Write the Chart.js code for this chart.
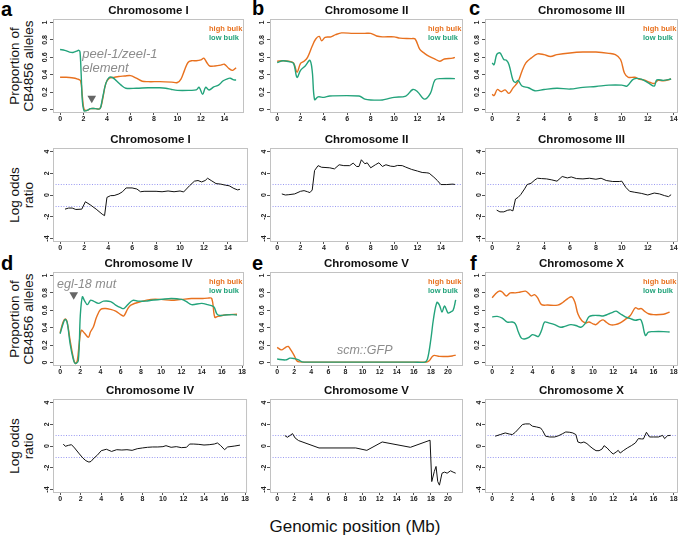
<!DOCTYPE html>
<html>
<head>
<meta charset="utf-8">
<script src="https://cdn.jsdelivr.net/npm/chart.js@4.4.0/dist/chart.umd.min.js"></script>
<style>
  body { margin:0; background:#fff; width:680px; height:537px; position:relative; overflow:hidden;
         font-family:"Liberation Sans", Arial, Helvetica, sans-serif; }
  canvas { position:absolute; }
  .tag { position:absolute; font-weight:bold; font-size:20px; line-height:20px; color:#000; }
  .ytitle { position:absolute; width:120px; height:30px; margin-left:-60px; margin-top:-15px;
            font-size:13.5px; line-height:14px; text-align:center; color:#111; transform:rotate(-90deg); }
  .xtitle { position:absolute; left:255px; top:517px; width:200px; text-align:center; font-size:17px; color:#111; }
</style>
</head>
<body>
<div class="tag" style="left:1px;top:-1px">a</div>
<div class="tag" style="left:252px;top:-2px">b</div>
<div class="tag" style="left:469px;top:-2px">c</div>
<div class="tag" style="left:1px;top:253px">d</div>
<div class="tag" style="left:252px;top:253px">e</div>
<div class="tag" style="left:470px;top:253px">f</div>
<div class="ytitle" style="left:23px;top:66px">Proportion of<br>CB4856 alleles</div>
<div class="ytitle" style="left:23px;top:195px">Log odds<br>ratio</div>
<div class="ytitle" style="left:23px;top:319px">Proportion of<br>CB4856 alleles</div>
<div class="ytitle" style="left:23px;top:446px">Log odds<br>ratio</div>
<div class="xtitle">Genomic position (Mb)</div>
<script>
// ---- data: [position (Mb), value] ----
var chrI_high = [[0,0.37],[0.5,0.37],[1.0,0.365],[1.5,0.35],[1.75,0.33],[1.9,0.15],[2.05,0.0],[2.3,-0.01],[2.6,0.01],[3.0,0.01],[3.4,0.01],[3.6,0.1],[3.9,0.3],[4.2,0.36],[4.6,0.37],[5.0,0.38],[5.5,0.385],[6.0,0.39],[6.5,0.36],[7.0,0.325],[7.5,0.32],[8.5,0.32],[9.5,0.315],[10.0,0.31],[10.3,0.35],[10.6,0.45],[10.9,0.54],[11.2,0.56],[11.6,0.56],[12.0,0.57],[12.25,0.59],[12.5,0.54],[12.75,0.5],[13.2,0.5],[13.7,0.51],[14.0,0.52],[14.4,0.47],[14.7,0.45],[15.0,0.48]];
var chrI_low = [[0,0.69],[0.4,0.68],[0.8,0.66],[1.1,0.655],[1.4,0.67],[1.6,0.68],[1.7,0.66],[1.8,0.4],[1.9,0.1],[2.05,-0.015],[2.3,-0.01],[2.6,0.01],[3.0,0.01],[3.4,0.01],[3.6,0.12],[3.9,0.3],[4.2,0.37],[4.5,0.365],[4.8,0.33],[5.2,0.28],[5.6,0.245],[6.5,0.245],[7.5,0.25],[8.5,0.25],[9.0,0.245],[9.5,0.23],[10.0,0.22],[11.0,0.22],[11.6,0.225],[11.85,0.255],[12.15,0.175],[12.4,0.255],[12.7,0.225],[13.1,0.26],[13.5,0.28],[13.9,0.33],[14.2,0.35],[14.5,0.36],[14.8,0.34],[15.0,0.34]];
var chrII_high = [[0,0.555],[0.5,0.56],[1.0,0.555],[1.4,0.535],[1.7,0.43],[2.0,0.53],[2.3,0.555],[2.6,0.6],[3.0,0.73],[3.3,0.81],[3.6,0.84],[3.8,0.79],[4.1,0.83],[4.6,0.835],[5.0,0.86],[5.5,0.88],[6.5,0.875],[7.5,0.875],[8.0,0.875],[8.5,0.845],[9.0,0.835],[10.0,0.835],[10.5,0.82],[11.5,0.815],[11.8,0.81],[12.2,0.69],[12.6,0.645],[13.0,0.61],[13.5,0.58],[13.9,0.555],[14.3,0.58],[15.0,0.59],[15.2,0.6]];
var chrII_low = [[0,0.54],[0.5,0.56],[1.0,0.55],[1.4,0.53],[1.7,0.37],[2.0,0.45],[2.4,0.5],[2.8,0.565],[3.0,0.44],[3.2,0.115],[3.5,0.145],[4.0,0.14],[4.5,0.155],[7.0,0.155],[7.5,0.12],[8.0,0.11],[9.0,0.11],[9.5,0.125],[10.0,0.14],[11.0,0.155],[11.6,0.23],[12.0,0.205],[12.6,0.12],[13.1,0.185],[13.5,0.34],[14.0,0.355],[15.2,0.355]];
var chrIII_high = [[0,0.175],[0.15,0.16],[0.4,0.23],[0.7,0.205],[1.0,0.225],[1.3,0.185],[1.6,0.245],[2.0,0.32],[2.3,0.44],[2.6,0.535],[3.0,0.59],[3.5,0.64],[4.0,0.63],[4.5,0.61],[5.0,0.63],[6.0,0.65],[7.0,0.66],[8.0,0.66],[9.0,0.645],[9.5,0.63],[9.9,0.575],[10.2,0.42],[10.5,0.37],[11.0,0.37],[11.3,0.35],[11.7,0.34],[12.2,0.31],[12.5,0.3],[12.8,0.335],[13.2,0.33],[13.8,0.35]];
var chrIII_low = [[0,0.535],[0.15,0.515],[0.35,0.63],[0.6,0.65],[0.9,0.575],[1.1,0.565],[1.3,0.515],[1.6,0.34],[1.8,0.31],[2.0,0.335],[2.3,0.27],[2.8,0.25],[3.3,0.215],[4.0,0.23],[5.0,0.245],[6.0,0.235],[7.0,0.255],[8.0,0.265],[9.0,0.28],[10.0,0.28],[10.4,0.27],[10.9,0.35],[11.5,0.35],[12.1,0.3],[12.5,0.27],[12.7,0.34],[13.2,0.335],[13.8,0.35]];
var chrIV_high = [[0,0.34],[0.3,0.465],[0.5,0.5],[0.7,0.465],[1.0,0.25],[1.3,0.06],[1.5,-0.01],[1.7,0.02],[1.9,0.23],[2.1,0.37],[2.4,0.34],[2.8,0.29],[3.0,0.35],[3.3,0.41],[3.6,0.52],[4.0,0.61],[4.5,0.62],[5.0,0.61],[5.5,0.59],[6.0,0.55],[6.3,0.535],[6.7,0.62],[7.0,0.66],[8.0,0.7],[9.0,0.725],[10.0,0.725],[11.0,0.715],[12.0,0.725],[13.0,0.735],[14.0,0.735],[14.6,0.74],[15.0,0.735],[15.3,0.52],[15.6,0.53],[16.0,0.54],[16.5,0.55],[17.5,0.555]];
var chrIV_low = [[0,0.33],[0.3,0.445],[0.5,0.495],[0.7,0.46],[1.0,0.21],[1.3,0.04],[1.5,-0.01],[1.8,0.02],[2.0,0.54],[2.2,0.755],[2.4,0.715],[2.7,0.665],[3.0,0.715],[3.3,0.705],[3.8,0.68],[4.3,0.705],[5.0,0.7],[5.5,0.66],[6.0,0.63],[6.3,0.62],[6.7,0.665],[7.2,0.715],[7.7,0.705],[8.5,0.705],[9.0,0.715],[10.0,0.725],[11.0,0.735],[12.0,0.725],[12.5,0.7],[13.0,0.665],[14.0,0.68],[14.6,0.665],[15.2,0.64],[15.5,0.56],[15.8,0.54],[16.2,0.545],[17.0,0.55],[17.5,0.545]];
var chrV_high = [[0,0.175],[0.5,0.145],[1.0,0.175],[1.3,0.185],[1.6,0.145],[2.0,0.08],[2.3,0.02],[2.6,0.008],[4,0.005],[8,0.005],[12,0.005],[16,0.005],[17.5,0.005],[17.8,0.02],[18.3,0.08],[19.0,0.07],[20.0,0.07],[20.5,0.075],[20.9,0.085]];
var chrV_low = [[0,0.04],[1.0,0.03],[1.5,0.05],[2.0,0.045],[2.5,0.03],[2.9,0.008],[4,0.005],[8,0.005],[12,0.005],[16,0.005],[17.3,0.005],[17.6,0.04],[18.0,0.27],[18.3,0.5],[18.7,0.69],[19.0,0.66],[19.3,0.58],[19.6,0.65],[20.0,0.57],[20.3,0.58],[20.6,0.6],[20.9,0.72]];
var chrX_high = [[0,0.745],[0.3,0.785],[0.7,0.82],[1.0,0.81],[1.4,0.765],[1.8,0.8],[2.3,0.8],[2.8,0.81],[3.3,0.82],[3.6,0.795],[3.9,0.765],[4.2,0.78],[4.5,0.745],[4.9,0.665],[5.5,0.66],[6.5,0.66],[7.0,0.69],[7.5,0.735],[7.9,0.755],[8.2,0.695],[8.5,0.56],[8.9,0.48],[9.3,0.455],[9.6,0.465],[10.0,0.445],[10.3,0.435],[10.7,0.475],[11.0,0.49],[11.3,0.465],[11.7,0.435],[12.2,0.435],[12.7,0.455],[13.2,0.495],[13.7,0.54],[14.2,0.63],[14.5,0.615],[14.8,0.62],[15.1,0.59],[15.5,0.56],[16.0,0.55],[17.0,0.555],[17.6,0.58]];
var chrX_low = [[0,0.525],[0.5,0.53],[1.0,0.51],[1.5,0.465],[2.0,0.465],[2.3,0.445],[2.6,0.35],[2.9,0.28],[3.2,0.27],[3.6,0.285],[4.0,0.32],[4.3,0.31],[4.6,0.3],[4.9,0.37],[5.2,0.465],[5.6,0.455],[6.2,0.435],[6.8,0.405],[7.2,0.415],[7.8,0.435],[8.3,0.425],[8.8,0.405],[9.2,0.445],[9.6,0.525],[10.0,0.54],[10.6,0.54],[11.0,0.535],[11.5,0.555],[12.0,0.58],[12.3,0.59],[12.7,0.56],[13.2,0.525],[13.7,0.505],[14.2,0.485],[14.7,0.495],[14.9,0.445],[15.2,0.31],[15.5,0.35],[16.0,0.355],[17.0,0.355],[17.6,0.35]];

var chrI_lod = [[0.4,-1.3],[0.7,-1.2],[1.0,-1.2],[1.3,-1.33],[1.8,-1.3],[2.1,-0.62],[2.5,-0.9],[3.0,-1.3],[3.5,-1.76],[3.7,-1.9],[3.9,-0.22],[4.2,-0.06],[4.5,-0.05],[4.9,0.1],[5.2,0.3],[5.5,0.65],[6.0,0.65],[6.4,0.55],[6.7,0.3],[7.0,0.34],[8.0,0.34],[8.5,0.3],[9.0,0.37],[9.5,0.3],[10.0,0.37],[10.3,0.28],[10.8,0.86],[11.2,1.27],[11.5,1.33],[11.8,1.2],[12.1,1.33],[12.3,1.54],[12.6,1.33],[13.0,1.05],[13.4,1.0],[13.8,0.9],[14.1,0.85],[14.5,0.6],[14.8,0.47],[15.0,0.52]];
var chrII_lod = [[0.4,0.1],[0.7,0.0],[1.0,0.03],[1.5,0.1],[2.0,0.34],[2.3,0.4],[2.6,0.3],[2.8,0.22],[3.0,0.46],[3.2,2.25],[3.5,2.7],[3.8,2.55],[4.5,2.5],[4.9,2.4],[5.3,2.78],[5.7,2.7],[6.2,2.7],[6.5,2.93],[6.8,2.62],[7.0,2.62],[7.2,3.24],[7.5,2.87],[7.7,2.96],[8.0,2.5],[8.4,2.78],[8.7,2.96],[9.0,2.62],[9.3,2.78],[9.7,2.65],[10.0,2.62],[10.3,2.72],[10.7,2.7],[11.0,2.56],[11.5,2.35],[12.0,2.2],[12.4,2.07],[12.8,2.04],[13.0,2.0],[13.4,1.64],[13.7,1.33],[14.0,0.96],[14.5,0.96],[15.0,1.0],[15.2,0.97]];
var chrIII_lod = [[0.35,-1.39],[0.6,-1.55],[0.9,-1.55],[1.2,-1.4],[1.4,-1.36],[1.6,-1.46],[1.8,-0.37],[2.0,-0.22],[2.2,0.03],[2.5,0.56],[2.7,0.96],[3.0,1.08],[3.3,1.39],[3.5,1.54],[3.8,1.51],[4.2,1.48],[4.6,1.39],[5.0,1.27],[5.4,1.7],[5.8,1.57],[6.1,1.66],[6.5,1.51],[7.0,1.48],[7.5,1.54],[8.0,1.45],[8.4,1.54],[8.8,1.33],[9.3,1.24],[9.8,1.24],[10.0,1.27],[10.3,0.71],[10.6,0.34],[11.0,0.25],[11.5,0.15],[12.0,0.0],[12.5,0.18],[12.9,0.1],[13.3,-0.06],[13.6,-0.15],[13.8,0.03]];
var chrIV_lod = [[0.3,0.18],[0.5,-0.03],[0.8,0.06],[1.1,0.12],[1.4,-0.18],[1.8,-0.65],[2.2,-1.1],[2.5,-1.35],[2.8,-1.48],[3.0,-1.42],[3.3,-1.1],[3.6,-0.86],[4.0,-0.43],[4.5,-0.3],[5.0,-0.5],[5.5,-0.34],[6.0,-0.37],[6.5,-0.34],[7.0,-0.4],[7.5,-0.25],[8.0,-0.18],[8.5,-0.12],[9.0,-0.09],[9.5,-0.09],[10.0,-0.06],[10.3,0.03],[10.8,-0.12],[11.3,-0.06],[11.8,-0.15],[12.3,-0.12],[12.6,0.18],[13.0,0.18],[13.5,0.15],[14.0,0.09],[14.5,0.12],[15.0,0.18],[15.3,0.28],[15.6,0.06],[16.0,-0.34],[16.3,-0.09],[17.0,0.0],[17.5,0.08]];
var chrV_lod = [[0.9,0.96],[1.2,0.8],[1.5,0.96],[1.8,1.14],[2.1,0.74],[2.5,0.5],[4.9,-0.18],[9.2,-0.18],[10.5,-0.4],[12.3,0.37],[15.6,-0.12],[17.9,0.53],[18.1,-3.27],[18.4,-2.34],[18.6,-1.88],[18.8,-3.27],[19.0,-3.6],[19.3,-2.5],[19.6,-2.4],[19.9,-2.5],[20.3,-2.28],[20.6,-2.4],[20.9,-2.5]];
var chrX_lod = [[0.3,0.9],[0.8,1.05],[1.3,1.2],[1.7,1.1],[2.0,1.05],[2.3,1.26],[2.7,1.66],[3.0,1.97],[3.3,2.03],[3.7,2.03],[4.0,1.82],[4.4,1.75],[4.8,1.66],[5.0,1.42],[5.3,0.9],[5.7,0.83],[6.2,0.83],[6.6,0.95],[7.0,1.14],[7.3,1.29],[7.7,1.26],[8.0,1.2],[8.3,1.05],[8.5,0.37],[8.8,0.28],[9.1,0.37],[9.4,0.22],[9.7,-0.03],[10.0,-0.25],[10.3,-0.43],[10.6,-0.43],[10.9,-0.28],[11.1,0.03],[11.4,-0.18],[11.7,-0.49],[12.0,-0.74],[12.3,-0.55],[12.5,-0.4],[12.7,-0.65],[13.0,-0.43],[13.4,-0.18],[13.8,0.03],[14.2,0.28],[14.5,0.68],[14.8,0.65],[15.0,0.65],[15.3,1.26],[15.6,0.83],[16.0,0.83],[16.5,0.83],[16.9,0.98],[17.1,0.68],[17.4,0.95],[17.7,0.98]];

var chromNames = ['Chromosome I','Chromosome II','Chromosome III','Chromosome IV','Chromosome V','Chromosome X'];
var chromLen = [15.07, 15.28, 13.78, 17.49, 20.92, 17.72];
var xTicksShort = [0,2,4,6,8,10,12,14];
var xTicksMid = [0,2,4,6,8,10,12,14,16,18];
var xTicksLong = [0,2,4,6,8,10,12,14,16,18,20];
var propTicks = [0,0.2,0.4,0.6,0.8,1];
var lodTicks = [-4,-2,0,2,4];
var lodCutoffs = [1,-1];
var seriesNames = ['high bulk','low bulk'];

var peelMark = [{x:2.7, y:0.13}];
var eglMark = [{x:1.35, y:0.78}];

var ORANGE = '#E8711F', GREEN = '#23A37B';
var COLS = [[53,248],[270,463],[485,678]];
var ROWS = [[19,113],[148,242],[272,366],[399,493]];
var PADL = 30, PADT = 20, PADR = 1, PADB = 14;

var panelDecor = {
  id: 'panelDecor',
  beforeDatasetsDraw: function(chart, args, o) {
    if (!o.cutoffs) return;
    var ctx = chart.ctx, a = chart.chartArea, y = chart.scales.y;
    ctx.save();
    ctx.strokeStyle = 'rgba(110,110,235,0.7)';
    ctx.lineWidth = 1;
    ctx.setLineDash([1, 1.6]);
    o.cutoffs.forEach(function(v) {
      var py = Math.round(y.getPixelForValue(v)) + 0.5;
      ctx.beginPath(); ctx.moveTo(a.left, py); ctx.lineTo(a.right, py); ctx.stroke();
    });
    ctx.restore();
  },
  afterDraw: function(chart, args, o) {
    var ctx = chart.ctx, a = chart.chartArea, sx = chart.scales.x, sy = chart.scales.y;
    ctx.save();
    ctx.strokeStyle = '#C2C2C2'; ctx.lineWidth = 1;
    ctx.strokeRect(a.left + 0.5, a.top + 0.5, a.width - 1, a.height - 1);
    ctx.fillStyle = '#111';
    ctx.font = 'bold 11.5px "Liberation Sans", Arial, sans-serif';
    ctx.textAlign = 'center'; ctx.textBaseline = 'middle';
    ctx.fillText(o.title, (a.left + a.right) / 2, a.top - 8);
    if (o.legend) {
      ctx.font = 'bold 7.5px "Liberation Sans", Arial, sans-serif';
      ctx.textAlign = 'left';
      ctx.fillStyle = ORANGE; ctx.fillText(seriesNames[0], a.right - 35, a.top + 10);
      ctx.fillStyle = GREEN; ctx.fillText(seriesNames[1], a.right - 35, a.top + 19);
    }
    (o.notes || []).forEach(function(n) {
      ctx.font = 'italic ' + (n.size || 12) + 'px "Liberation Sans", Arial, sans-serif';
      ctx.fillStyle = '#8C8C8C';
      ctx.textAlign = 'left';
      ctx.fillText(n.text, sx.getPixelForValue(n.x), sy.getPixelForValue(n.y));
    });
    ctx.restore();
  }
};

function toPts(arr) { return arr.map(function(p) { return {x:p[0], y:p[1]}; }); }

function makePanel(col, row, chrom, datasets, yTicks, yMin, yMax, xTicks, decor) {
  var box = [COLS[col][0], ROWS[row][0], COLS[col][1], ROWS[row][1]];
  var cv = document.createElement('canvas');
  cv.width = box[2] - box[0] + PADL + PADR;
  cv.height = box[3] - box[1] + PADT + PADB;
  cv.style.left = (box[0] - PADL) + 'px';
  cv.style.top = (box[1] - PADT) + 'px';
  document.body.appendChild(cv);
  var L = chromLen[chrom];
  decor.title = chromNames[chrom];
  var tickFont = { family:'"Liberation Sans", Arial, sans-serif', size:7, weight:'bold' };
  new Chart(cv, {
    type: 'line',
    data: { datasets: datasets },
    options: {
      responsive: false,
      animation: false,
      events: [],
      layout: { padding: { left:0, top:PADT, right:PADR, bottom:0 } },
      plugins: { legend: { display:false }, tooltip: { enabled:false }, panelDecor: decor },
      scales: {
        x: {
          type: 'linear', min: -0.04 * L, max: 1.04 * L,
          afterFit: function(s) { s.height = PADB; },
          afterBuildTicks: function(s) { s.ticks = xTicks.map(function(v) { return {value:v}; }); },
          ticks: { autoSkip:false, maxRotation:0, padding:0, color:'#222', font:tickFont,
                   callback: function(v) { return String(v); } },
          grid: { drawOnChartArea:false, tickLength:2, color:'#555' },
          border: { display:false }
        },
        y: {
          type: 'linear', min: yMin, max: yMax,
          afterFit: function(s) { s.width = PADL; },
          afterBuildTicks: function(s) { s.ticks = yTicks.map(function(v) { return {value:v}; }); },
          ticks: { autoSkip:false, minRotation:90, maxRotation:90, crossAlign:'center', padding:0,
                   color:'#222', font:tickFont, callback: function(v) { return String(v); } },
          grid: { drawOnChartArea:false, tickLength:3, color:'#555' },
          border: { display:false }
        }
      }
    },
    plugins: [panelDecor]
  });
}

function propSets(high, low, mark) {
  var sets = [
    { data: toPts(low), borderColor: GREEN, borderWidth: 1.4, pointRadius: 0, tension: 0.35, fill: false },
    { data: toPts(high), borderColor: ORANGE, borderWidth: 1.4, pointRadius: 0, tension: 0.35, fill: false }
  ];
  if (mark) sets.unshift({ data: mark, showLine: false, pointStyle: 'triangle', rotation: 180,
                           pointRadius: 5, backgroundColor: '#666', borderWidth: 0 });
  return sets;
}
function lodSets(lod) {
  return [{ data: toPts(lod), borderColor: '#111', borderWidth: 1, pointRadius: 0, tension: 0, fill: false }];
}

var pMin = -0.04, pMax = 1.04, lMin = -4.32, lMax = 4.32;

makePanel(0, 0, 0, propSets(chrI_high, chrI_low, peelMark), propTicks, pMin, pMax, xTicksShort,
  { legend:true, notes:[{text:'peel-1/zeel-1', x:1.9, y:0.63, size:13}, {text:'element', x:1.9, y:0.47, size:13}] });
makePanel(1, 0, 1, propSets(chrII_high, chrII_low), propTicks, pMin, pMax, xTicksShort, { legend:true });
makePanel(2, 0, 2, propSets(chrIII_high, chrIII_low), propTicks, pMin, pMax, xTicksShort, { legend:true });

makePanel(0, 1, 0, lodSets(chrI_lod), lodTicks, lMin, lMax, xTicksShort, { cutoffs: lodCutoffs });
makePanel(1, 1, 1, lodSets(chrII_lod), lodTicks, lMin, lMax, xTicksShort, { cutoffs: lodCutoffs });
makePanel(2, 1, 2, lodSets(chrIII_lod), lodTicks, lMin, lMax, xTicksShort, { cutoffs: lodCutoffs });

makePanel(0, 2, 3, propSets(chrIV_high, chrIV_low, eglMark), propTicks, pMin, pMax, xTicksMid,
  { legend:true, notes:[{text:'egl-18 mut', x:-0.3, y:0.9, size:12.5}] });
makePanel(1, 2, 4, propSets(chrV_high, chrV_low), propTicks, pMin, pMax, xTicksLong,
  { legend:true, notes:[{text:'scm::GFP', x:7.0, y:0.14, size:12.5}] });
makePanel(2, 2, 5, propSets(chrX_high, chrX_low), propTicks, pMin, pMax, xTicksMid, { legend:true });

makePanel(0, 3, 3, lodSets(chrIV_lod), lodTicks, lMin, lMax, xTicksMid, { cutoffs: lodCutoffs });
makePanel(1, 3, 4, lodSets(chrV_lod), lodTicks, lMin, lMax, xTicksLong, { cutoffs: lodCutoffs });
makePanel(2, 3, 5, lodSets(chrX_lod), lodTicks, lMin, lMax, xTicksMid, { cutoffs: lodCutoffs });
</script>
</body>
</html>
